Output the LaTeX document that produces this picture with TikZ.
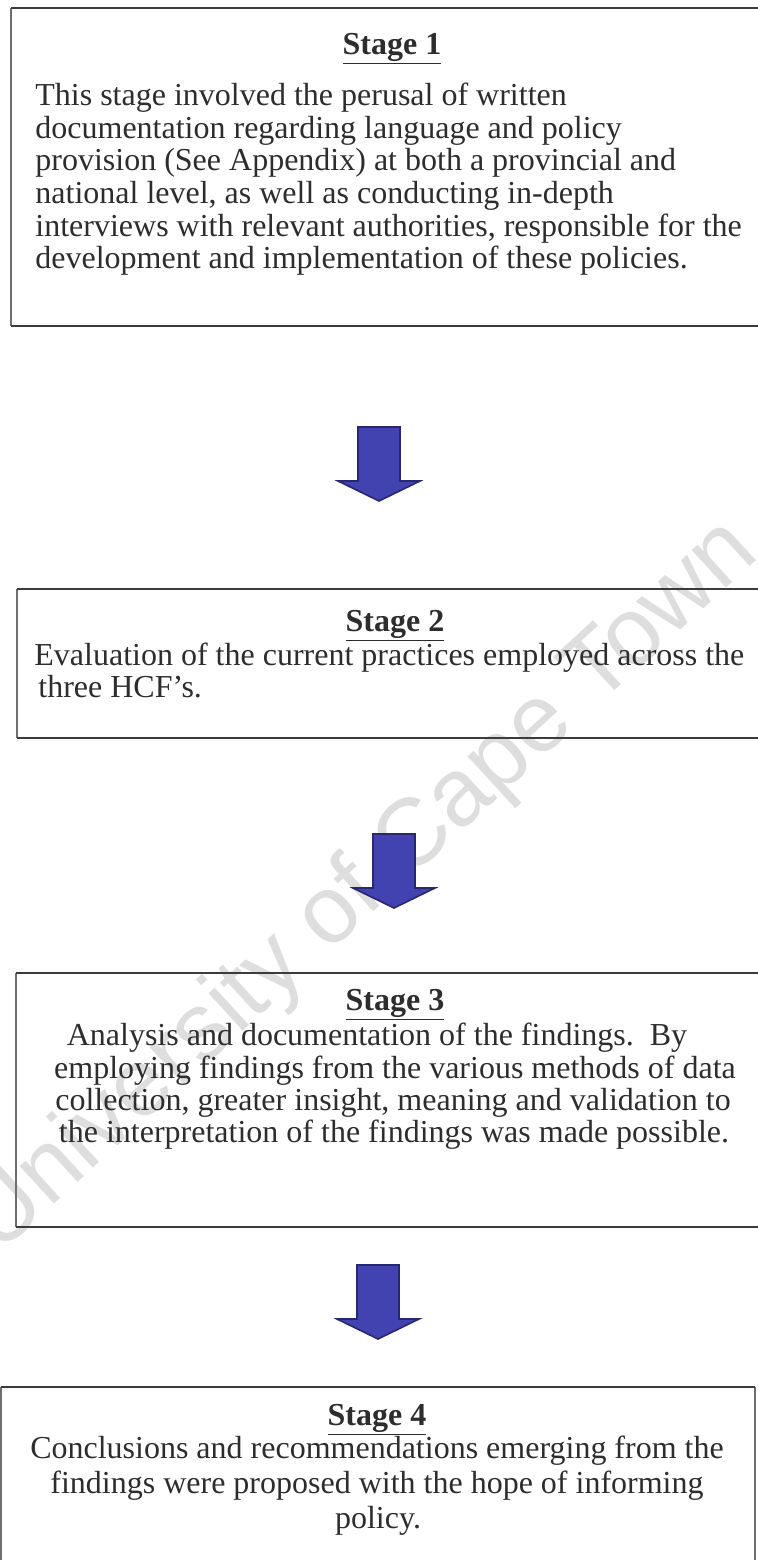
\documentclass[tikz,border=0pt]{standalone}
\usepackage{fontspec}
\setmainfont{Liberation Serif}
\newfontfamily\wmfont{Liberation Sans}
\definecolor{inkgray}{RGB}{45,45,45}
\definecolor{framegray}{RGB}{60,60,60}
\definecolor{sidegray}{RGB}{110,110,110}
\definecolor{arrowblue}{RGB}{66,66,176}
\definecolor{arrowedge}{RGB}{40,40,112}
\definecolor{markgray}{RGB}{222,222,222}
\tikzset{
  txt/.style={inner sep=0pt, text=inkgray, font=\fontsize{16}{16.4}\selectfont},
  leftline/.style={txt, anchor=base west},
  midline/.style={txt, anchor=base},
  stagetitle/.style={txt, anchor=base, font=\fontsize{16}{16.4}\selectfont\bfseries},
  hrule/.style={draw=framegray, line width=1.3pt},
  vrule/.style={draw=sidegray, line width=0.8pt},
  arrowbody/.style={fill=arrowblue, draw=arrowedge, line width=0.8pt, line join=miter},
  blockarrow/.pic={
    \path[arrowbody] (-21,0) -- (21,0) -- (21,54) -- (41,54) -- (0,74)
      -- (-41,54) -- (-21,54) -- cycle;
  }
}
\begin{document}
\begin{tikzpicture}[x=0.5pt, y=-0.5pt]
\useasboundingbox (0,0) rectangle (758,1560);
\clip (0,0) rectangle (758,1560);

% watermark
\node[anchor=base west, rotate=42.5, inner sep=0pt, text=markgray,
      font=\wmfont\fontsize{48}{48}\selectfont] (mark) at (-2,1256)
  {University of Cape Town};

% stage frames (open towards the right edge of the page)
\foreach \l/\t/\b/\r in {11/8/326/780, 17/589/738/780, 16/973/1227/780, 1/1387/1600/755} {
  \path[vrule] (\l,\t) -- (\l,\b);
  \path[vrule] (\r,\t) -- (\r,\b);
  \path[hrule] (\l,\t) -- (\r,\t);
  \path[hrule] (\l,\b) -- (\r,\b);
}

% Stage 1
\node[stagetitle] (t1) at (392,54) {\underline{Stage 1}};
\node[leftline] (s1a) at (35,105) {This stage involved the perusal of written};
\node[leftline] (s1b) at (35,138) {documentation regarding language and policy};
\node[leftline] (s1c) at (35,170) {provision (See Appendix) at both a provincial and};
\node[leftline] (s1d) at (35,203) {national level, as well as conducting in-depth};
\node[leftline] (s1e) at (35,236) {interviews with relevant authorities, responsible for the};
\node[leftline] (s1f) at (35,268) {development and implementation of these policies.};

% Stage 2
\node[stagetitle] (t2) at (395,631) {\underline{Stage 2}};
\node[leftline] (s2a) at (34,665) {Evaluation of the current practices employed across the};
\node[leftline] (s2b) at (38,697) {three HCF’s.};

% Stage 3
\node[stagetitle] (t3) at (395,1010) {\underline{Stage 3}};
\node[midline] (s3a) at (377,1045) {Analysis and documentation of the findings.\ \ By};
\node[midline] (s3b) at (395,1078) {employing findings from the various methods of data};
\node[midline] (s3c) at (393,1110) {collection, greater insight, meaning and validation to};
\node[midline] (s3d) at (394,1142) {the interpretation of the findings was made possible.};

% Stage 4
\node[stagetitle] (t4) at (377,1425) {\underline{Stage 4}};
\node[midline] (s4a) at (377,1458) {Conclusions and recommendations emerging from the};
\node[midline] (s4b) at (377,1493) {findings were proposed with the hope of informing};
\node[midline] (s4c) at (378,1528) {policy.};

% block arrows between the stages
\pic (a1) at (379,427) {blockarrow};
\pic (a2) at (394,834) {blockarrow};
\pic (a3) at (378,1265) {blockarrow};
\end{tikzpicture}
\end{document}
